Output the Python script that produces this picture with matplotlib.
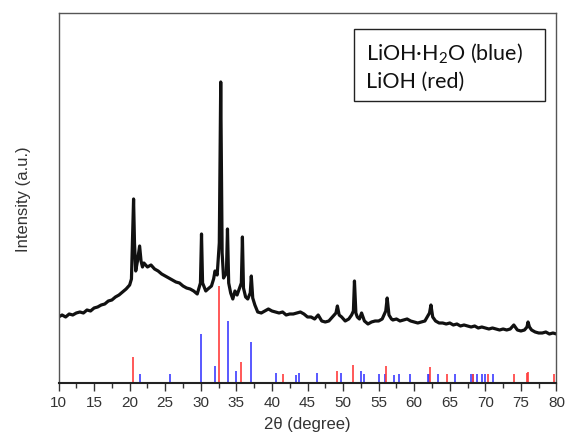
import matplotlib
matplotlib.use("Agg")
import matplotlib.pyplot as plt
from matplotlib.patches import Rectangle
from matplotlib.ticker import MultipleLocator

# measured XRD trace (2theta, intensity in a.u.)
two_theta = [10.0, 10.5, 11.0, 11.5, 12.0, 12.5, 13.0, 13.5, 14.0, 14.5, 15.0, 15.5, 16.0, 16.5,
             17.0, 17.5, 18.0, 18.5, 19.0, 19.5, 20.0, 20.25, 20.42, 20.55, 20.68, 20.85, 21.1, 21.4,
             21.6, 21.8, 22.0, 22.5, 23.0, 23.5, 24.0, 24.5, 25.0, 25.5, 26.0, 26.5, 27.0, 27.5,
             28.0, 28.5, 29.0, 29.5, 29.95, 30.1, 30.25, 30.7, 31.0, 31.5, 31.8, 32.0, 32.3, 32.6,
             32.8, 33.0, 33.2, 33.6, 33.75, 33.92, 34.2, 34.5, 34.8, 35.1, 35.7, 35.85, 36.0, 36.3,
             36.6, 36.95, 37.1, 37.3, 37.6, 38.0, 38.5, 39.0, 39.5, 40.0, 40.5, 41.0, 41.5, 42.0,
             42.5, 43.0, 43.5, 44.0, 44.5, 45.0, 45.5, 46.0, 46.5, 47.0, 47.5, 48.0, 48.5, 49.0,
             49.2, 49.45, 49.8, 50.3, 50.8, 51.2, 51.45, 51.6, 51.8, 52.0, 52.3, 52.6, 53.0, 53.5,
             54.0, 54.5, 55.0, 55.5, 56.0, 56.2, 56.45, 56.8, 57.0, 57.5, 58.0, 58.5, 59.0, 59.5,
             60.0, 60.5, 61.0, 61.5, 62.15, 62.35, 62.6, 63.0, 63.5, 64.0, 64.5, 65.0, 65.5, 66.0,
             66.5, 67.0, 67.5, 68.0, 68.5, 69.0, 69.5, 70.0, 70.5, 71.0, 71.5, 72.0, 72.5, 73.0,
             73.5, 74.0, 74.5, 75.0, 75.5, 75.85, 76.0, 76.2, 76.5, 77.0, 77.5, 78.0, 78.5, 79.0,
             79.5, 80.0]
intensity = [66, 68, 66, 69, 68, 70, 71, 70, 73, 72, 75, 76, 78, 79,
             82, 83, 86, 88, 91, 94, 98, 104, 150, 184, 140, 112, 122, 137,
             122, 116, 120, 116, 118, 114, 112, 109, 107, 105, 103, 101, 100, 97,
             95, 94, 92, 89, 100, 149, 100, 92, 94, 97, 104, 112, 108, 140,
             301, 130, 105, 110, 154, 100, 90, 84, 92, 88, 100, 146, 95, 86,
             84, 90, 107, 85, 78, 71, 70, 72, 74, 72, 71, 70, 71, 68,
             69, 69, 70, 71, 69, 66, 66, 64, 68, 62, 61, 62, 66, 70,
             77, 68, 66, 62, 64, 68, 72, 102, 70, 66, 64, 70, 62, 59,
             61, 62, 62, 64, 72, 85, 68, 64, 63, 64, 62, 63, 64, 62,
             61, 60, 61, 62, 70, 78, 66, 62, 60, 60, 59, 60, 58, 59,
             57, 58, 57, 56, 57, 55, 56, 55, 54, 55, 54, 53, 54, 53,
             54, 58, 53, 52, 53, 56, 61, 56, 53, 51, 50, 50, 51, 49,
             50, 49]

# reference patterns (stick positions and heights)
lioh_pos = [20.5, 32.55, 35.7, 41.6, 49.2, 51.45, 56.1, 62.2, 64.6, 68.3, 70.4, 74.0, 75.85, 76.05, 79.6]
lioh_h = [26, 97, 21, 9, 12, 18, 17, 16, 9, 9, 9, 9, 10, 11, 9]
hydrate_pos = [21.4, 25.7, 30.0, 32.0, 33.8, 35.0, 37.0, 40.6, 43.4, 43.8, 46.4, 49.7, 52.5, 52.9,
               55.1, 55.9, 57.2, 57.9, 59.35, 61.9, 62.05, 63.3, 65.7, 67.95, 68.3, 68.8, 69.5,
               69.9, 71.1]
hydrate_h = [9, 9, 49, 17, 62, 12, 41, 10, 8, 10, 10, 10, 12, 9,
             9, 9, 8, 9, 9, 9, 9, 9, 9, 9, 9, 9, 9,
             9, 9]

fig = plt.figure(figsize=(5.66, 4.39), dpi=100)
ax = fig.add_axes([0.1034, 0.1253, 0.8798, 0.8428])

ax.plot(two_theta, intensity, color='#111111', lw=2.3, solid_joinstyle='round')
ax.vlines(hydrate_pos, 0, hydrate_h, color='#3c3cff', lw=1.2)
ax.vlines(lioh_pos, 0, lioh_h, color='#ff3c3c', lw=1.2)

ax.set_xlim(10, 80)
ax.set_ylim(0, 370)
ax.xaxis.set_major_locator(MultipleLocator(5))
ax.xaxis.set_minor_locator(MultipleLocator(2.5))
ax.set_yticks([])
ax.tick_params(axis='x', which='major', direction='out', length=6, width=1, color='#333333',
               labelsize=11, labelcolor='#333333', pad=3)
ax.tick_params(axis='x', which='minor', direction='out', length=3.5, width=1, color='#333333')
for lab in ax.get_xticklabels():
    lab.set_family(['Liberation Sans', 'DejaVu Sans'])

for s in ['left', 'top', 'right']:
    ax.spines[s].set_color('#555555')
    ax.spines[s].set_linewidth(1.0)
ax.spines['bottom'].set_color('#222222')
ax.spines['bottom'].set_linewidth(1.5)

ax.set_xlabel('2θ (degree)', fontsize=12, color='#333333', family=['Liberation Sans', 'DejaVu Sans'], labelpad=5)
ax.set_ylabel('Intensity (a.u.)', fontsize=12, color='#333333', family=['Liberation Sans', 'DejaVu Sans'], labelpad=20)

# legend-like box
ax.add_patch(Rectangle((0.5934, 0.762), 0.3836, 0.195, transform=ax.transAxes,
                       fill=False, edgecolor='#222222', lw=1.0))
ax.text(0.617, 0.876, 'LiOH·H$\\mathregular{_2}$O (blue)', transform=ax.transAxes,
        fontsize=15.5, family='Lato', va='baseline', ha='left', color='#111111')
ax.text(0.617, 0.80, 'LiOH (red)', transform=ax.transAxes,
        fontsize=15.5, family='Lato', va='baseline', ha='left', color='#111111')

fig.savefig('out.png', dpi=100)
